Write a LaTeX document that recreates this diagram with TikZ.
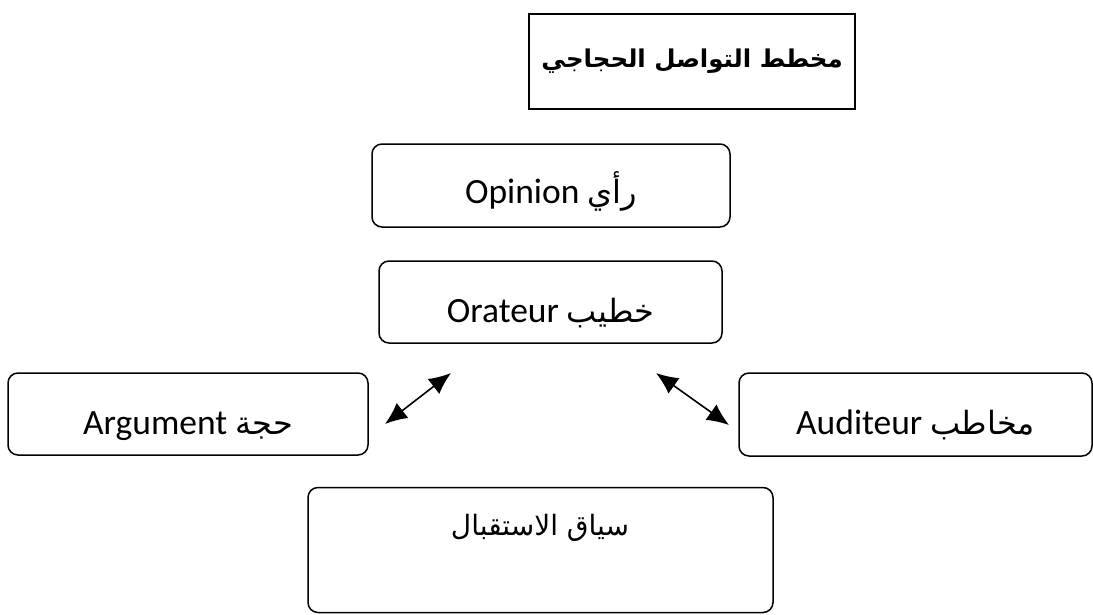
\documentclass[tikz,border=0pt]{standalone}
\usepackage{fontspec}
\setmainfont{Carlito}
\newfontfamily\ar[Script=Arabic]{DejaVu Sans}
\TeXXeTstate=1
\usetikzlibrary{arrows.meta}
\newcommand\arlabel[1]{{\ar\fontsize{32}{36}\selectfont\beginR #1\endR}}
\newcommand\boxtext[2]{\raisebox{-#1}[0pt][0pt]{#2}}
\tikzset{
  rbox/.style={draw, rounded corners=10pt, line width=1.5pt, inner sep=0pt, font=\fontsize{35.5}{40}\selectfont},
  tbox/.style={draw, line width=2.2pt, inner sep=0pt, minimum width=326pt, minimum height=95pt},
  dblarrow/.style={{Latex[length=22pt,width=19pt]}-{Latex[length=22pt,width=19pt]}, line width=1.6pt}
}
\begin{document}
\begin{tikzpicture}[x=1pt,y=-1pt]
\useasboundingbox (0,0) rectangle (1093,614);
\node[tbox] (title) at (692,61.5) {\fontsize{24.5}{28}\selectfont\ar\bfseries\beginR مخطط التواصل الحجاجي\endR};
\node[rbox, minimum width=358pt, minimum height=83pt] (opinion) at (551,185.5) {\boxtext{18pt}{Opinion \arlabel{رأي}}};
\node[rbox, minimum width=343pt, minimum height=82pt] (orateur) at (550.5,302) {\boxtext{20pt}{Orateur \arlabel{خطيب}}};
\node[rbox, minimum width=360pt, minimum height=82pt] (argument) at (188,414) {\boxtext{20pt}{Argument \arlabel{حجة}}};
\node[rbox, minimum width=353pt, minimum height=83pt] (auditeur) at (915.5,414.5) {\boxtext{20pt}{Auditeur \arlabel{مخاطب}}};
\node[rbox, minimum width=465pt, minimum height=125pt] (ctx) at (540.5,550) {};
\node[font=\ar\fontsize{28}{34}\selectfont, inner sep=0pt] (ctxlabel) at (540,528) {\beginR سياق الاستقبال\endR};
\coordinate (la) at (385,424);
\coordinate (lb) at (451,373);
\coordinate (ra) at (656,373);
\coordinate (rb) at (729,425);
\draw[dblarrow] (la) -- (lb);
\draw[dblarrow] (ra) -- (rb);
\end{tikzpicture}
\end{document}
